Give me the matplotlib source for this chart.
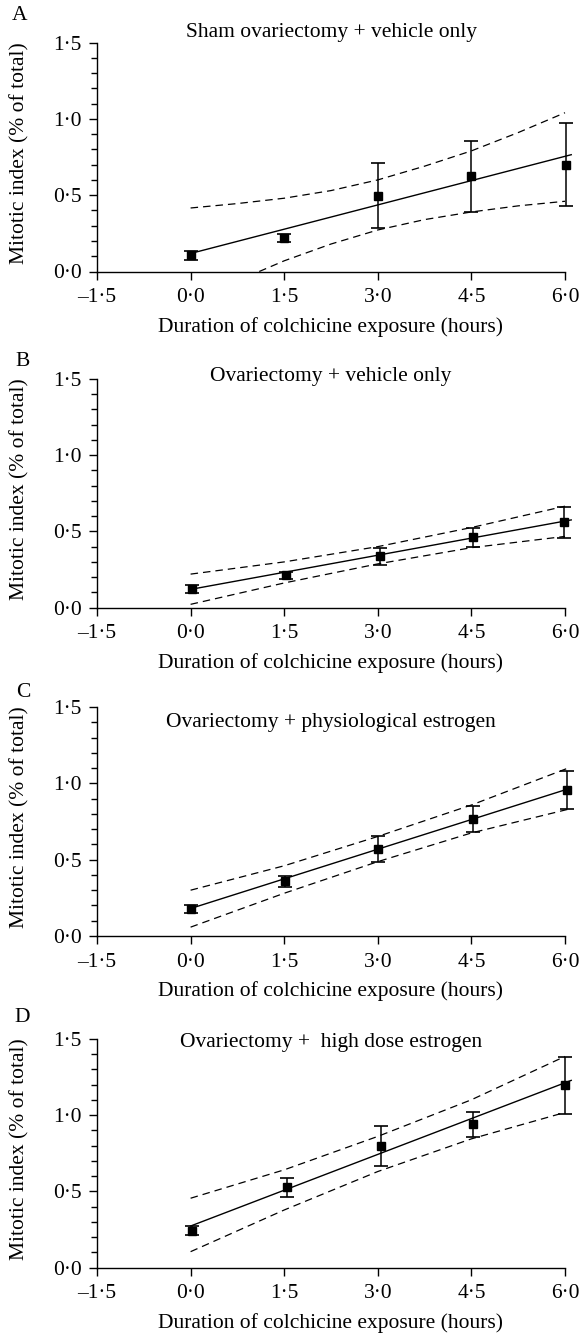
import matplotlib
matplotlib.use("Agg")
import matplotlib.pyplot as plt
from matplotlib.ticker import MultipleLocator, FixedLocator, FixedFormatter

plt.rcParams['font.family'] = ['Liberation Serif', 'DejaVu Serif']
plt.rcParams['lines.scale_dashes'] = False

# ---------------- data ----------------
panel_letters = ["A", "B", "C", "D"]
panel_titles = ["Sham ovariectomy + vehicle only",
                "Ovariectomy + vehicle only",
                "Ovariectomy + physiological estrogen",
                "Ovariectomy +  high dose estrogen"]

x_ticks = [-1.5, 0.0, 1.5, 3.0, 4.5, 6.0]
x_tick_labels = ["\u20131\u00b75", "0\u00b70", "1\u00b75", "3\u00b70", "4\u00b75", "6\u00b70"]
y_ticks = [0.0, 0.5, 1.0, 1.5]
y_tick_labels = ["0\u00b70", "0\u00b75", "1\u00b70", "1\u00b75"]
x_label = "Duration of colchicine exposure (hours)"
y_label = "Mitotic index (% of total)"

# measured points (mean +/- error)
x_A = [0.0, 1.5, 3.0, 4.5, 6.02]
mean_A = [0.105, 0.22, 0.495, 0.623, 0.70]
err_A = [0.03, 0.025, 0.213, 0.23, 0.27]

x_B = [0.03, 1.53, 3.03, 4.52, 5.99]
mean_B = [0.122, 0.214, 0.337, 0.461, 0.56]
err_B = [0.026, 0.023, 0.056, 0.064, 0.102]

x_C = [0.0, 1.51, 3.01, 4.53, 6.04]
mean_C = [0.175, 0.357, 0.569, 0.766, 0.957]
err_C = [0.025, 0.036, 0.083, 0.088, 0.123]

x_D = [0.03, 1.55, 3.05, 4.52, 6.0]
mean_D = [0.243, 0.527, 0.796, 0.94, 1.194]
err_D = [0.03, 0.062, 0.133, 0.083, 0.186]

# regression lines (end points)
fit_x = [0.0, 6.1]
fit_A = [0.118, 0.765]
fit_B = [0.12, 0.575]
fit_C = [0.18, 0.97]
fit_D = [0.273, 1.227]

# confidence bands
bandx_A_up = [0.0, 0.75, 1.5, 2.25, 3.0, 3.75, 4.5, 5.25, 6.0]
band_A_up = [0.416, 0.445, 0.48, 0.53, 0.60, 0.69, 0.79, 0.91, 1.04]
bandx_A_lo = [1.1, 1.5, 2.25, 3.0, 3.75, 4.5, 5.25, 6.0]
band_A_lo = [0.0, 0.07, 0.18, 0.272, 0.34, 0.39, 0.43, 0.46]

bandx_B = [0.0, 1.5, 3.0, 4.5, 6.0]
band_B_up = [0.22, 0.30, 0.40, 0.525, 0.665]
band_B_lo = [0.022, 0.162, 0.287, 0.393, 0.467]

bandx_C = [0.0, 1.5, 3.0, 4.5, 6.05]
band_C_up = [0.30, 0.46, 0.652, 0.858, 1.10]
band_C_lo = [0.058, 0.28, 0.487, 0.675, 0.83]

bandx_D = [0.0, 1.5, 3.0, 4.5, 6.0]
band_D_up = [0.455, 0.641, 0.86, 1.10, 1.384]
band_D_lo = [0.105, 0.378, 0.63, 0.844, 1.017]

panels = [
    (x_A, mean_A, err_A, fit_A, bandx_A_up, band_A_up, bandx_A_lo, band_A_lo),
    (x_B, mean_B, err_B, fit_B, bandx_B, band_B_up, bandx_B, band_B_lo),
    (x_C, mean_C, err_C, fit_C, bandx_C, band_C_up, bandx_C, band_C_lo),
    (x_D, mean_D, err_D, fit_D, bandx_D, band_D_up, bandx_D, band_D_lo),
]

# ---------------- layout (pixels) ----------------
W, H = 586, 1333
fig = plt.figure(figsize=(W / 100, H / 100), dpi=100)
ax_left, ax_right = 97, 565
ax_bottoms = [271.5, 607.7, 936.0, 1267.7]
ax_h = 229.0
title_y = [33, 377, 722, 1042]
letter_pos = [(12, 16), (15, 362), (16, 693), (14, 1018)]
FS = 15.5
TFS = 15.5

dash = (0, (5.4, 3.6))

for i, (xs, ms, es, fy, bxu, bu, bxl, bl) in enumerate(panels):
    b = ax_bottoms[i]
    ax = fig.add_axes([ax_left / W, 1 - b / H, (ax_right - ax_left) / W, ax_h / H])
    ax.set_xlim(-1.5, 6.0)
    ax.set_ylim(0.0, 1.5)
    for s in ["top", "right"]:
        ax.spines[s].set_visible(False)
    for s in ["left", "bottom"]:
        ax.spines[s].set_linewidth(1.0)
    ax.xaxis.set_major_locator(FixedLocator(x_ticks))
    ax.xaxis.set_major_formatter(FixedFormatter(x_tick_labels))
    ax.yaxis.set_major_locator(FixedLocator(y_ticks))
    ax.yaxis.set_major_formatter(FixedFormatter(y_tick_labels))
    ax.yaxis.set_minor_locator(MultipleLocator(0.1))
    ax.tick_params(axis='x', which='major', direction='out', length=6, width=1.0,
                   labelsize=TFS, pad=6)
    ax.tick_params(axis='y', which='major', direction='out', length=6, width=1.0,
                   labelsize=TFS, pad=5)
    ax.tick_params(axis='y', which='minor', direction='out', length=4, width=1.0)

    ax.plot(fit_x, fy, color='black', lw=1.0, clip_on=False, zorder=3)
    ax.plot(bxu, bu, color='black', lw=0.9, linestyle=dash, clip_on=False, zorder=2)
    ax.plot(bxl, bl, color='black', lw=0.9, linestyle=dash, clip_on=False, zorder=2)
    ax.errorbar(xs, ms, yerr=es, fmt='s', color='black', ms=5.8, mec='black',
                mfc='black', elinewidth=1.1, capsize=4.7, capthick=1.2,
                clip_on=False, zorder=4)

    fig.text(331 / W, 1 - title_y[i] / H, panel_titles[i], ha='center', va='center',
             fontsize=FS)
    lx, ly = letter_pos[i]
    fig.text(lx / W, 1 - ly / H, panel_letters[i], ha='left', va='center', fontsize=FS)
    fig.text(331 / W, 1 - (b + 55.5) / H, x_label, ha='center', va='center', fontsize=FS)
    fig.text(20 / W, 1 - (b - ax_h / 2 - 4) / H, y_label, ha='center', va='center',
             rotation=90, fontsize=FS)

fig.savefig("out.png", dpi=100)
